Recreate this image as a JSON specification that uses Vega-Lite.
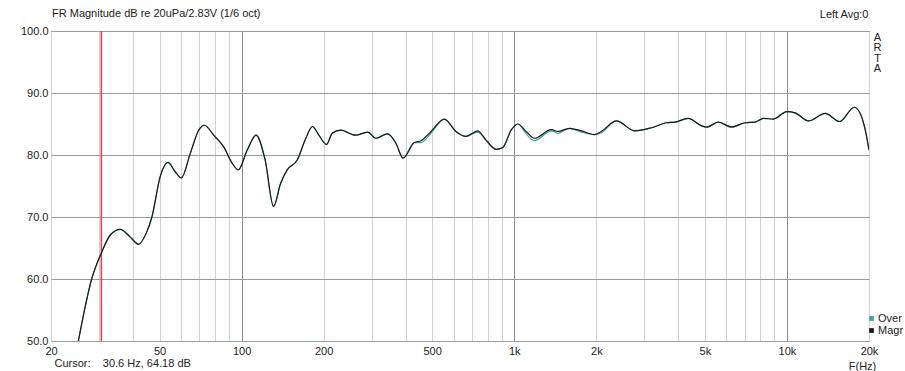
{
  "$schema": "https://vega.github.io/schema/vega-lite/v6.json",
  "width": 818,
  "height": 310,
  "autosize": "none",
  "padding": {"left": 51, "top": 31, "right": 36, "bottom": 30},
  "background": "white",
  "config": {
    "view": {"stroke": "#555555", "strokeWidth": 1},
    "font": "Liberation Sans"
  },
  "title": {
    "text": "FR Magnitude dB re 20uPa/2.83V (1/6 oct)",
    "anchor": "start",
    "frame": "group",
    "fontSize": 11,
    "fontWeight": "normal",
    "font": "Liberation Sans",
    "color": "#222222",
    "offset": 0,
    "dy": 11,
    "dx": 1
  },
  "datasets": {
    "curve": [
      {"f": 25.2, "db": 50.0, "s": "Overlay"}, {"f": 28.2, "db": 60.0, "s": "Overlay"}, {"f": 30.6, "db": 64.2, "s": "Overlay"}, {"f": 33.0, "db": 67.1, "s": "Overlay"}, {"f": 35.9, "db": 68.0, "s": "Overlay"}, {"f": 39.0, "db": 66.8, "s": "Overlay"}, {"f": 41.9, "db": 65.6, "s": "Overlay"}, {"f": 44.7, "db": 67.4, "s": "Overlay"}, {"f": 46.9, "db": 70.0, "s": "Overlay"}, {"f": 50.3, "db": 76.5, "s": "Overlay"}, {"f": 53.7, "db": 78.8, "s": "Overlay"}, {"f": 57.1, "db": 77.3, "s": "Overlay"}, {"f": 60.1, "db": 76.3, "s": "Overlay"}, {"f": 64.9, "db": 80.3, "s": "Overlay"}, {"f": 69.6, "db": 84.0, "s": "Overlay"}, {"f": 73.0, "db": 84.8, "s": "Overlay"}, {"f": 79.0, "db": 83.2, "s": "Overlay"}, {"f": 86.0, "db": 81.3, "s": "Overlay"}, {"f": 92.3, "db": 78.7, "s": "Overlay"}, {"f": 97.2, "db": 77.6, "s": "Overlay"}, {"f": 104.9, "db": 80.8, "s": "Overlay"}, {"f": 113, "db": 83.2, "s": "Overlay"}, {"f": 122, "db": 79.2, "s": "Overlay"}, {"f": 131, "db": 71.7, "s": "Overlay"}, {"f": 139, "db": 75.4, "s": "Overlay"}, {"f": 147, "db": 77.6, "s": "Overlay"}, {"f": 160, "db": 79.2, "s": "Overlay"}, {"f": 172, "db": 82.7, "s": "Overlay"}, {"f": 182, "db": 84.6, "s": "Overlay"}, {"f": 192, "db": 83.2, "s": "Overlay"}, {"f": 205, "db": 81.7, "s": "Overlay"}, {"f": 215, "db": 83.5, "s": "Overlay"}, {"f": 231, "db": 84.0, "s": "Overlay"}, {"f": 262, "db": 83.2, "s": "Overlay"}, {"f": 290, "db": 83.7, "s": "Overlay"}, {"f": 311, "db": 82.7, "s": "Overlay"}, {"f": 343, "db": 83.4, "s": "Overlay"}, {"f": 368, "db": 81.9, "s": "Overlay"}, {"f": 391, "db": 79.5, "s": "Overlay"}, {"f": 430, "db": 82.0, "s": "Overlay"}, {"f": 455, "db": 82.0, "s": "Overlay"}, {"f": 495, "db": 83.5, "s": "Overlay"}, {"f": 554, "db": 85.8, "s": "Overlay"}, {"f": 611, "db": 83.8, "s": "Overlay"}, {"f": 665, "db": 83.0, "s": "Overlay"}, {"f": 735, "db": 83.7, "s": "Overlay"}, {"f": 788, "db": 82.4, "s": "Overlay"}, {"f": 858, "db": 80.9, "s": "Overlay"}, {"f": 908, "db": 81.2, "s": "Overlay"}, {"f": 974, "db": 84.0, "s": "Overlay"}, {"f": 1031, "db": 85.0, "s": "Overlay"}, {"f": 1106, "db": 83.4, "s": "Overlay"}, {"f": 1186, "db": 82.3, "s": "Overlay"}, {"f": 1367, "db": 83.9, "s": "Overlay"}, {"f": 1446, "db": 83.5, "s": "Overlay"}, {"f": 1595, "db": 84.3, "s": "Overlay"}, {"f": 1761, "db": 83.7, "s": "Overlay"}, {"f": 1972, "db": 83.3, "s": "Overlay"}, {"f": 2086, "db": 83.6, "s": "Overlay"}, {"f": 2368, "db": 85.5, "s": "Overlay"}, {"f": 2766, "db": 83.9, "s": "Overlay"}, {"f": 3186, "db": 84.4, "s": "Overlay"}, {"f": 3617, "db": 85.2, "s": "Overlay"}, {"f": 3882, "db": 85.3, "s": "Overlay"}, {"f": 4346, "db": 85.9, "s": "Overlay"}, {"f": 4864, "db": 84.7, "s": "Overlay"}, {"f": 5076, "db": 84.5, "s": "Overlay"}, {"f": 5604, "db": 85.3, "s": "Overlay"}, {"f": 6272, "db": 84.5, "s": "Overlay"}, {"f": 7020, "db": 85.2, "s": "Overlay"}, {"f": 7638, "db": 85.3, "s": "Overlay"}, {"f": 8202, "db": 85.9, "s": "Overlay"}, {"f": 8924, "db": 85.8, "s": "Overlay"}, {"f": 9988, "db": 87.0, "s": "Overlay"}, {"f": 10716, "db": 86.8, "s": "Overlay"}, {"f": 12002, "db": 85.5, "s": "Overlay"}, {"f": 13816, "db": 86.7, "s": "Overlay"}, {"f": 15612, "db": 85.4, "s": "Overlay"}, {"f": 17662, "db": 87.7, "s": "Overlay"}, {"f": 18578, "db": 86.7, "s": "Overlay"}, {"f": 19384, "db": 84.0, "s": "Overlay"}, {"f": 20000, "db": 80.8, "s": "Overlay"},
      {"f": 25.2, "db": 50.0, "s": "Magnitude"}, {"f": 28.2, "db": 60.0, "s": "Magnitude"}, {"f": 30.6, "db": 64.2, "s": "Magnitude"}, {"f": 33.0, "db": 67.1, "s": "Magnitude"}, {"f": 35.9, "db": 68.0, "s": "Magnitude"}, {"f": 39.0, "db": 66.8, "s": "Magnitude"}, {"f": 41.9, "db": 65.6, "s": "Magnitude"}, {"f": 44.7, "db": 67.4, "s": "Magnitude"}, {"f": 46.9, "db": 70.0, "s": "Magnitude"}, {"f": 50.3, "db": 76.5, "s": "Magnitude"}, {"f": 53.7, "db": 78.8, "s": "Magnitude"}, {"f": 57.1, "db": 77.3, "s": "Magnitude"}, {"f": 60.1, "db": 76.3, "s": "Magnitude"}, {"f": 64.9, "db": 80.3, "s": "Magnitude"}, {"f": 69.6, "db": 84.0, "s": "Magnitude"}, {"f": 73.0, "db": 84.8, "s": "Magnitude"}, {"f": 79.0, "db": 83.2, "s": "Magnitude"}, {"f": 86.0, "db": 81.3, "s": "Magnitude"}, {"f": 92.3, "db": 78.7, "s": "Magnitude"}, {"f": 97.2, "db": 77.6, "s": "Magnitude"}, {"f": 104.9, "db": 80.8, "s": "Magnitude"}, {"f": 113, "db": 83.2, "s": "Magnitude"}, {"f": 122, "db": 79.2, "s": "Magnitude"}, {"f": 131, "db": 71.7, "s": "Magnitude"}, {"f": 139, "db": 75.4, "s": "Magnitude"}, {"f": 147, "db": 77.6, "s": "Magnitude"}, {"f": 160, "db": 79.2, "s": "Magnitude"}, {"f": 172, "db": 82.7, "s": "Magnitude"}, {"f": 182, "db": 84.6, "s": "Magnitude"}, {"f": 192, "db": 83.2, "s": "Magnitude"}, {"f": 205, "db": 81.7, "s": "Magnitude"}, {"f": 215, "db": 83.5, "s": "Magnitude"}, {"f": 231, "db": 84.0, "s": "Magnitude"}, {"f": 262, "db": 83.2, "s": "Magnitude"}, {"f": 290, "db": 83.7, "s": "Magnitude"}, {"f": 311, "db": 82.7, "s": "Magnitude"}, {"f": 343, "db": 83.4, "s": "Magnitude"}, {"f": 368, "db": 81.9, "s": "Magnitude"}, {"f": 391, "db": 79.5, "s": "Magnitude"}, {"f": 430, "db": 82.0, "s": "Magnitude"}, {"f": 455, "db": 82.3, "s": "Magnitude"}, {"f": 495, "db": 83.8, "s": "Magnitude"}, {"f": 554, "db": 85.8, "s": "Magnitude"}, {"f": 611, "db": 83.8, "s": "Magnitude"}, {"f": 665, "db": 83.0, "s": "Magnitude"}, {"f": 735, "db": 83.9, "s": "Magnitude"}, {"f": 788, "db": 82.4, "s": "Magnitude"}, {"f": 858, "db": 80.9, "s": "Magnitude"}, {"f": 908, "db": 81.2, "s": "Magnitude"}, {"f": 974, "db": 84.0, "s": "Magnitude"}, {"f": 1031, "db": 85.0, "s": "Magnitude"}, {"f": 1106, "db": 83.8, "s": "Magnitude"}, {"f": 1186, "db": 82.7, "s": "Magnitude"}, {"f": 1367, "db": 84.1, "s": "Magnitude"}, {"f": 1446, "db": 83.8, "s": "Magnitude"}, {"f": 1595, "db": 84.3, "s": "Magnitude"}, {"f": 1761, "db": 83.9, "s": "Magnitude"}, {"f": 1972, "db": 83.3, "s": "Magnitude"}, {"f": 2086, "db": 83.8, "s": "Magnitude"}, {"f": 2368, "db": 85.5, "s": "Magnitude"}, {"f": 2766, "db": 83.9, "s": "Magnitude"}, {"f": 3186, "db": 84.4, "s": "Magnitude"}, {"f": 3617, "db": 85.2, "s": "Magnitude"}, {"f": 3882, "db": 85.3, "s": "Magnitude"}, {"f": 4346, "db": 85.9, "s": "Magnitude"}, {"f": 4864, "db": 84.7, "s": "Magnitude"}, {"f": 5076, "db": 84.5, "s": "Magnitude"}, {"f": 5604, "db": 85.3, "s": "Magnitude"}, {"f": 6272, "db": 84.5, "s": "Magnitude"}, {"f": 7020, "db": 85.2, "s": "Magnitude"}, {"f": 7638, "db": 85.3, "s": "Magnitude"}, {"f": 8202, "db": 85.9, "s": "Magnitude"}, {"f": 8924, "db": 85.8, "s": "Magnitude"}, {"f": 9988, "db": 87.0, "s": "Magnitude"}, {"f": 10716, "db": 86.8, "s": "Magnitude"}, {"f": 12002, "db": 85.5, "s": "Magnitude"}, {"f": 13816, "db": 86.7, "s": "Magnitude"}, {"f": 15612, "db": 85.4, "s": "Magnitude"}, {"f": 17662, "db": 87.7, "s": "Magnitude"}, {"f": 18578, "db": 86.7, "s": "Magnitude"}, {"f": 19384, "db": 84.0, "s": "Magnitude"}, {"f": 20000, "db": 80.8, "s": "Magnitude"}
    ],
    "cursor": [{"f": 30.6}]
  },
  "resolve": {"axis": {"x": "independent", "y": "independent"}},
  "layer": [
    {
      "data": {"name": "cursor"},
      "mark": {"type": "rule", "color": "#ee3a3a", "strokeWidth": 1.5},
      "encoding": {
        "x": {
          "field": "f",
          "type": "quantitative",
          "scale": {"type": "log", "domain": [20, 20000], "nice": false},
          "axis": {
            "orient": "top",
            "labels": false,
            "ticks": false,
            "domain": false,
            "grid": false,
            "title": "Left  Avg:0",
            "titleFontSize": 11,
            "titleFontWeight": "normal",
            "titleColor": "#222222",
            "titleAlign": "right",
            "titleAnchor": "end",
            "titleBaseline": "alphabetic",
            "titleX": 817,
            "titleY": -14
          }
        },
        "y": {
          "datum": 50,
          "type": "quantitative",
          "scale": {"domain": [50, 100], "nice": false},
          "axis": {
            "orient": "right",
            "labels": false,
            "ticks": false,
            "domain": false,
            "grid": false,
            "title": ["A", "R", "T", "A"],
            "titleAngle": 0,
            "titleFontSize": 11,
            "titleFontWeight": "normal",
            "titleColor": "#222222",
            "titleAlign": "center",
            "titleBaseline": "top",
            "titleLineHeight": 10.5,
            "titleX": 8,
            "titleY": 0
          }
        },
        "y2": {"datum": 100}
      }
    },
    {
      "data": {"name": "curve"},
      "mark": {"type": "line", "strokeWidth": 1.2, "interpolate": "monotone", "clip": true},
      "encoding": {
        "x": {
          "field": "f",
          "type": "quantitative",
          "scale": {"type": "log", "domain": [20, 20000], "nice": false},
          "axis": {
            "orient": "bottom",
            "values": [20, 30, 40, 50, 60, 70, 80, 90, 100, 200, 300, 400, 500, 600, 700, 800, 900, 1000, 2000, 3000, 4000, 5000, 6000, 7000, 8000, 9000, 10000, 20000],
            "labelExpr": "datum.value==20?'20':datum.value==50?'50':datum.value==100?'100':datum.value==200?'200':datum.value==500?'500':datum.value==1000?'1k':datum.value==2000?'2k':datum.value==5000?'5k':datum.value==10000?'10k':datum.value==20000?'20k':''",
            "labelFlush": false,
            "labelOverlap": false,
            "labelFontSize": 11,
            "labelColor": "#222222",
            "labelPadding": 4,
            "ticks": false,
            "domain": false,
            "grid": true,
            "gridColor": {"condition": {"test": "datum.value==100 || datum.value==1000 || datum.value==10000", "value": "#8c8c8c"}, "value": "#d2d2d2"},
            "gridWidth": 1,
            "title": "F(Hz)",
            "titleFontSize": 11,
            "titleFontWeight": "normal",
            "titleColor": "#222222",
            "titleAlign": "center",
            "titleBaseline": "alphabetic",
            "titleX": 811,
            "titleY": 28
          }
        },
        "y": {
          "field": "db",
          "type": "quantitative",
          "scale": {"domain": [50, 100], "nice": false},
          "axis": {
            "orient": "left",
            "values": [50, 60, 70, 80, 90, 100],
            "format": ".1f",
            "labelFontSize": 11,
            "labelColor": "#222222",
            "labelPadding": 3,
            "ticks": false,
            "domain": false,
            "grid": true,
            "gridColor": "#9a9a9a",
            "title": "Cursor:\u00a0\u00a0\u00a0 30.6 Hz, 64.18 dB",
            "titleAngle": 0,
            "titleFontSize": 11,
            "titleFontWeight": "normal",
            "titleColor": "#222222",
            "titleAlign": "left",
            "titleBaseline": "alphabetic",
            "titleX": 3,
            "titleY": 335
          }
        },
        "color": {
          "field": "s",
          "type": "nominal",
          "scale": {"domain": ["Overlay", "Magnitude"], "range": ["#3fa3a3", "#1a1a1a"]},
          "legend": {
            "orient": "none",
            "legendX": 815,
            "legendY": 282,
            "title": null,
            "symbolType": "square",
            "symbolSize": 5,
            "symbolStrokeWidth": 2.5,
            "labelExpr": "datum.label == 'Overlay' ? 'Over' : 'Magr'",
            "labelFontSize": 11,
            "labelColor": "#222222",
            "labelOffset": 1,
            "padding": 0,
            "rowPadding": -1
          }
        }
      }
    }
  ]
}
